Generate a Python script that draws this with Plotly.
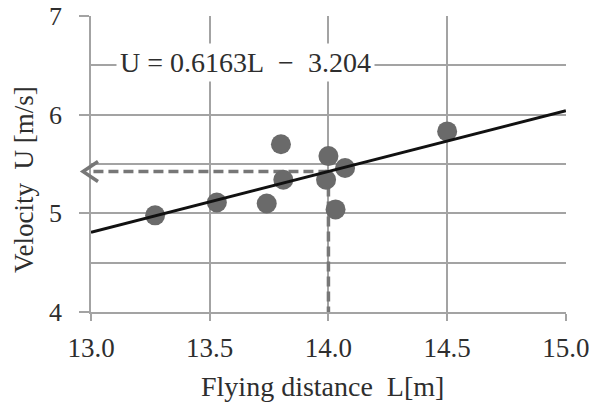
import plotly.graph_objects as go

# Data
flying_distance = [13.27, 13.53, 13.74, 13.80, 13.81, 14.00, 13.99, 14.07, 14.03, 14.50]
velocity = [4.98, 5.11, 5.10, 5.70, 5.34, 5.58, 5.34, 5.46, 5.04, 5.83]
slope = 0.6163
intercept = -3.204
x_range = [13.0, 15.0]
y_range = [4.0, 7.0]
x_ticks = [13.0, 13.5, 14.0, 14.5, 15.0]
x_tick_labels = ["13.0", "13.5", "14.0", "14.5", "15.0"]
y_ticks = [4, 5, 6, 7]
y_tick_labels = ["4", "5", "6", "7"]
target_L = 14.0
target_U = slope * target_L + intercept

FONT = "Liberation Serif"
TXT = "#2e2e2e"
GRID = "#a3a3a3"
DASH = "#777777"

fig = go.Figure()

# dashed read-off lines (below markers)
fig.add_trace(go.Scatter(
    x=[target_L, x_range[0]], y=[target_U, target_U], mode="lines",
    line=dict(color=DASH, width=3.5, dash="10px,5px"), cliponaxis=False,
    showlegend=False, hoverinfo="skip"))
fig.add_trace(go.Scatter(
    x=[target_L, target_L], y=[target_U, y_range[0]], mode="lines",
    line=dict(color=DASH, width=3.5, dash="10px,5px"),
    showlegend=False, hoverinfo="skip"))

# data points
fig.add_trace(go.Scatter(
    x=flying_distance, y=velocity, mode="markers",
    marker=dict(size=20, color="#6a6a6a", line=dict(width=0)),
    showlegend=False))

# regression line
fig.add_trace(go.Scatter(
    x=x_range, y=[slope * v + intercept for v in x_range], mode="lines",
    line=dict(color="#111111", width=3), showlegend=False, hoverinfo="skip"))

# open arrowhead at the y axis (paper refs so it is not clipped)
fig.add_shape(type="path", xref="paper", yref="paper", xsizemode="pixel", ysizemode="pixel",
              xanchor=0, yanchor=(target_U - y_range[0]) / (y_range[1] - y_range[0]),
              path="M 7 10 L -8 0 L 7 -10",
              line=dict(color=DASH, width=3.5), layer="above")

fig.update_layout(
    width=589, height=405,
    margin=dict(l=91, r=23, t=16, b=93),
    plot_bgcolor="white", paper_bgcolor="white",
    font=dict(family=FONT, color=TXT, size=27),
    xaxis=dict(range=[x_range[0], x_range[1] + 0.0005], tickvals=x_ticks, ticktext=x_tick_labels,
               showgrid=True, gridcolor=GRID, gridwidth=1.5,
               ticks="outside", ticklen=7, tickwidth=1.5, tickcolor=GRID,
               showline=True, linecolor=GRID, linewidth=1.5,
               zeroline=False, tickfont=dict(size=27, family=FONT, color=TXT),
               ticklabelstandoff=4, ticklabeloverflow="allow", automargin=False),
    yaxis=dict(range=y_range, tickvals=y_ticks, ticktext=y_tick_labels,
               showgrid=True, gridcolor=GRID, gridwidth=1.5,
               ticks="outside", ticklen=10, tickwidth=1.5, tickcolor=GRID,
               showline=True, linecolor=GRID, linewidth=1.5,
               zeroline=False, tickfont=dict(size=26, family=FONT, color=TXT),
               ticklabelstandoff=12, automargin=False,
               minor=dict(dtick=0.5, showgrid=True, gridcolor=GRID, gridwidth=1.5, ticks="")),
    annotations=[
        dict(text="U\u00a0=\u00a00.6163L\u00a0\u00a0−\u00a0\u00a03.204", xref="paper", yref="paper",
             x=0.325, y=0.843, xanchor="center", yanchor="middle", showarrow=False,
             bgcolor="white", borderpad=3, font=dict(size=28, family=FONT, color=TXT)),
        dict(text="Flying distance\u00a0\u00a0L[m]", xref="paper", yref="paper",
             x=0.488, y=-0.253, xanchor="center", yanchor="middle", showarrow=False,
             font=dict(size=28, family=FONT, color=TXT)),
        dict(text="Velocity\u00a0 U [m/s]", xref="paper", yref="paper",
             x=-0.141, y=0.446, xanchor="center", yanchor="middle", showarrow=False,
             textangle=-90, font=dict(size=27, family=FONT, color=TXT)),
    ],
)

fig.write_html("out.html")
